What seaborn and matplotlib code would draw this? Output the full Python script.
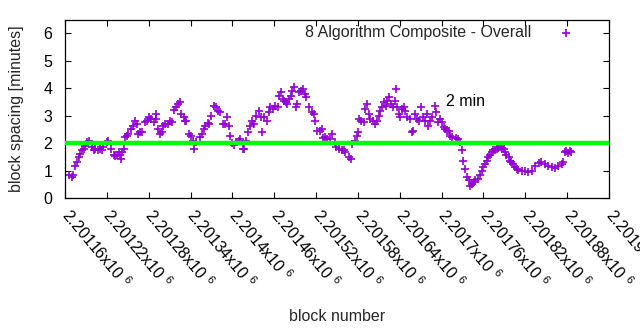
import matplotlib
matplotlib.use("Agg")
import matplotlib.pyplot as plt
import seaborn as sns
import pandas as pd

# Block height of each sample and the block spacing (minutes) at that height
blocks = [
    2201166, 2201170, 2201172, 2201175, 2201177, 2201180, 2201182, 2201184, 2201187, 2201189,
    2201191, 2201195, 2201199, 2201201, 2201203, 2201207, 2201210, 2201213, 2201215, 2201220,
    2201222, 2201226, 2201230, 2201232, 2201234, 2201237, 2201239, 2201240, 2201242, 2201245,
    2201246, 2201249, 2201251, 2201255, 2201258, 2201260, 2201263, 2201265, 2201268, 2201270,
    2201274, 2201277, 2201280, 2201283, 2201287, 2201290, 2201291, 2201294, 2201296, 2201299,
    2201301, 2201304, 2201307, 2201310, 2201313, 2201317, 2201319, 2201322, 2201325, 2201327,
    2201330, 2201332, 2201334, 2201338, 2201340, 2201343, 2201345, 2201348, 2201353, 2201357,
    2201359, 2201361, 2201365, 2201367, 2201370, 2201373, 2201376, 2201379, 2201382, 2201386,
    2201390, 2201392, 2201395, 2201396, 2201400, 2201403, 2201405, 2201409, 2201411, 2201415,
    2201417, 2201420, 2201422, 2201425, 2201428, 2201431, 2201434, 2201438, 2201441, 2201443,
    2201446, 2201449, 2201452, 2201454, 2201458, 2201461, 2201465, 2201467, 2201470, 2201472,
    2201474, 2201477, 2201479, 2201481, 2201484, 2201486, 2201489, 2201491, 2201493, 2201496,
    2201498, 2201501, 2201504, 2201506, 2201510, 2201514, 2201517, 2201519, 2201522, 2201525,
    2201528, 2201530, 2201533, 2201536, 2201540, 2201543, 2201547, 2201549, 2201553, 2201557,
    2201560, 2201562, 2201567, 2201570, 2201572, 2201576, 2201579, 2201580, 2201582, 2201585,
    2201588, 2201590, 2201593, 2201596, 2201598, 2201601, 2201604, 2201608, 2201610, 2201612,
    2201615, 2201617, 2201620, 2201622, 2201625, 2201627, 2201630, 2201633, 2201634, 2201636,
    2201639, 2201641, 2201643, 2201646, 2201648, 2201650, 2201654, 2201657, 2201659, 2201662,
    2201665, 2201667, 2201671, 2201673, 2201676, 2201679, 2201681, 2201684, 2201686, 2201690,
    2201692, 2201695, 2201698, 2201700, 2201703, 2201705, 2201708, 2201710, 2201712, 2201715,
    2201720, 2201723, 2201727, 2201729, 2201731, 2201734, 2201736, 2201739, 2201741, 2201743,
    2201746, 2201748, 2201752, 2201755, 2201758, 2201760, 2201762, 2201765, 2201767, 2201770,
    2201772, 2201774, 2201777, 2201779, 2201781, 2201784, 2201786, 2201789, 2201791, 2201793,
    2201796, 2201798, 2201800, 2201803, 2201805, 2201808, 2201810, 2201815, 2201820, 2201824,
    2201829, 2201834, 2201839, 2201843, 2201848, 2201853, 2201858, 2201862, 2201867, 2201872,
    2201874, 2201877, 2201879, 2201881, 2201884, 2201886,
]
spacing_minutes = [
    0.85, 0.76, 0.82, 1.18, 1.30, 1.48, 1.61, 1.73, 1.79, 1.91,
    2.03, 2.09, 1.85, 1.75, 1.79, 1.73, 1.79, 1.73, 1.85, 2.03,
    2.06, 1.79, 1.55, 1.52, 1.55, 1.67, 1.55, 1.42, 1.67, 1.79,
    2.21, 2.27, 2.33, 2.52, 2.61, 2.82, 2.70, 2.33, 2.39, 2.39,
    2.76, 2.82, 2.96, 2.88, 2.76, 2.88, 3.06, 2.52, 2.33, 2.39,
    2.64, 2.70, 2.70, 2.82, 2.76, 3.21, 3.30, 3.42, 3.48, 3.06,
    2.94, 2.82, 2.82, 2.33, 2.27, 2.09, 1.79, 2.03, 2.21, 2.33,
    2.52, 2.64, 2.73, 2.70, 3.00, 3.36, 3.30, 3.18, 3.12, 2.70,
    2.70, 2.94, 2.64, 2.27, 1.99, 1.94, 2.03, 2.09, 2.15, 1.79,
    1.79, 2.09, 2.39, 2.64, 2.82, 2.70, 3.00, 3.18, 2.94, 2.39,
    2.94, 2.82, 3.12, 3.30, 3.24, 3.36, 3.30, 3.73, 3.85, 3.61,
    3.55, 3.48, 3.42, 3.61, 3.73, 3.91, 4.05, 3.30, 3.42, 3.85,
    3.91, 3.97, 3.79, 3.67, 3.30, 3.12, 3.06, 2.82, 2.45, 2.45,
    2.52, 2.18, 2.21, 2.15, 2.15, 2.33, 2.03, 1.85, 1.79, 1.73,
    1.73, 1.67, 1.48, 1.42, 1.97, 2.09, 2.27, 2.39, 2.88, 2.82,
    2.76, 3.24, 3.42, 3.06, 2.88, 2.82, 2.70, 2.82, 3.00, 3.18,
    3.30, 3.48, 3.36, 3.55, 3.67, 3.42, 3.30, 3.55, 3.97, 3.30,
    3.06, 2.94, 3.24, 3.30, 3.18, 2.94, 2.88, 2.39, 2.45, 3.06,
    2.88, 2.82, 3.30, 2.94, 2.82, 3.06, 2.64, 2.82, 2.94, 3.36,
    3.12, 2.76, 2.88, 2.76, 2.58, 2.52, 2.45, 2.45, 2.27, 2.21,
    2.20, 2.15, 2.03, 1.73, 1.36, 1.06, 0.76, 0.64, 0.45, 0.52,
    0.58, 0.64, 0.70, 0.82, 1.00, 1.12, 1.24, 1.36, 1.48, 1.55,
    1.67, 1.73, 1.75, 1.79, 1.82, 1.85, 1.82, 1.79, 1.67, 1.58,
    1.48, 1.36, 1.30, 1.22, 1.12, 1.06, 1.02, 1.00, 0.97, 0.94,
    1.00, 1.18, 1.27, 1.30, 1.24, 1.18, 1.12, 1.09, 1.15, 1.24,
    1.30, 1.67, 1.70, 1.64, 1.70, 1.69,
]

series_label = "8 Algorithm Composite - Overall"
target_minutes = 2.0
target_label = "2 min"
target_label_block = 2201706
target_label_minutes = 3.5

x_ticks = list(range(2201160, 2201941, 60))
y_ticks = [0, 1, 2, 3, 4, 5, 6]
x_limits = (2201160, 2201940)
y_limits = (0, 6.5)

df = pd.DataFrame({"block": blocks, "minutes": spacing_minutes})

sns.set_theme(style="ticks")
plt.rcParams["font.family"] = ["Liberation Sans", "DejaVu Sans"]
plt.rcParams["mathtext.fontset"] = "custom"
plt.rcParams["mathtext.rm"] = "Liberation Sans"
FS = 11.5

fig = plt.figure(figsize=(6.4, 3.3), dpi=100)
ax = fig.add_axes([65 / 640, 1 - 198 / 330, (609 - 65) / 640, (198 - 19.5) / 330])

sns.scatterplot(data=df, x="block", y="minutes", marker="+", color="#9400d3",
                s=36, linewidth=1.2, ax=ax, label=series_label, zorder=2)
ax.axhline(target_minutes, color="#00ff00", lw=3.2, zorder=3)
ax.text(target_label_block, target_label_minutes, target_label,
        fontsize=FS, ha="left", va="center", color="black")

ax.set_xlim(*x_limits)
ax.set_ylim(*y_limits)
ax.set_xticks(x_ticks)
ax.set_yticks(y_ticks)
ax.set_xticklabels([f"{t / 1e6:g}x10 $^{{\\mathregular{{6}}}}$" for t in x_ticks],
                   rotation=-50, rotation_mode="anchor", ha="left", va="center",
                   fontsize=FS)
ax.set_yticklabels([str(t) for t in y_ticks], fontsize=FS)
ax.tick_params(axis="both", direction="in", length=4, width=0.8,
               top=True, right=True, colors="black")
ax.tick_params(axis="x", pad=10)
ax.tick_params(axis="y", pad=9)
for sp in ax.spines.values():
    sp.set_visible(True)
    sp.set_color("black")
    sp.set_linewidth(0.9)

ax.set_xlabel("block number", fontsize=FS)
ax.set_ylabel("block spacing [minutes]", fontsize=FS)
ax.xaxis.set_label_coords(0.5, -0.62)
ax.yaxis.set_label_coords(-0.075, 0.5)

leg = ax.legend(loc="upper right", bbox_to_anchor=(582 / 640, 1 - 25 / 330),
                bbox_transform=fig.transFigure, frameon=False, markerfirst=False,
                handlelength=2.0, handletextpad=1.2, borderpad=0, borderaxespad=0,
                fontsize=FS)

fig.savefig("out.png", dpi=100, facecolor="white")
